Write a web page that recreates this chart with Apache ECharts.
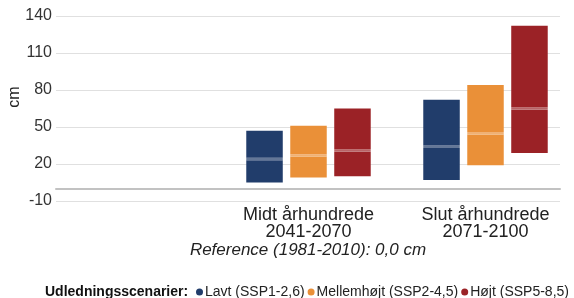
<!DOCTYPE html>
<html>
<head>
<meta charset="utf-8">
<script src="https://cdn.jsdelivr.net/npm/echarts@6/dist/echarts.min.js"></script>
<style>html,body{margin:0;padding:0;background:#fff}#c{width:574px;height:298px}</style>
</head>
<body>
<div id="c"></div>
<script>
// ---- data ----
const categories = ['Midt århundrede\n2041-2070', 'Slut århundrede\n2071-2100'];
const scenarios = ['Lavt (SSP1-2,6)', 'Mellemhøjt (SSP2-4,5)', 'Højt (SSP5-8,5)'];
const lavtLow = [5, 7];
const lavtMid = [24, 34];
const lavtHigh = [47, 72];
const mellemLow = [9, 19];
const mellemMid = [27, 45];
const mellemHigh = [51, 84];
const hojtLow = [10, 29];
const hojtMid = [31, 65];
const hojtHigh = [65, 132];
const yMin = -10, yMax = 140, yInterval = 30;
const yAxisTitle = 'cm';
const referenceText = 'Reference (1981-2010): 0,0 cm';
const legendTitle = 'Udledningsscenarier:';

// ---- styling ----
const colors = ['#213d6b', '#ea9038', '#9b2226'];
const lowArr = [lavtLow, mellemLow, hojtLow];
const midArr = [lavtMid, mellemMid, hojtMid];
const highArr = [lavtHigh, mellemHigh, hojtHigh];
const medianBand = 2; // value units for median line thickness

function lighten(hex, t) {
  const n = parseInt(hex.slice(1), 16);
  const r = (n >> 16) & 255, g = (n >> 8) & 255, b = n & 255;
  const m = c => Math.round(c + (255 - c) * t);
  return 'rgb(' + m(r) + ',' + m(g) + ',' + m(b) + ')';
}

const series = [];
scenarios.forEach((name, i) => {
  const stack = 's' + i;
  const common = { type: 'bar', xAxisIndex: 1, yAxisIndex: 1, stack: stack, barWidth: 36.5, barGap: '20.5%', silent: true };
  series.push(Object.assign({}, common, {
    name: name + ' base', data: lowArr[i], itemStyle: { color: 'rgba(0,0,0,0)' }
  }));
  series.push(Object.assign({}, common, {
    name: name, data: lowArr[i].map((l, k) => midArr[i][k] - l - medianBand / 2),
    itemStyle: { color: colors[i] }
  }));
  series.push(Object.assign({}, common, {
    name: name + ' median', data: midArr[i].map(() => medianBand),
    itemStyle: { color: lighten(colors[i], 0.3) }
  }));
  series.push(Object.assign({}, common, {
    name: name + ' upper', data: highArr[i].map((h, k) => h - midArr[i][k] - medianBand / 2),
    itemStyle: { color: colors[i] }
  }));
});

const chart = echarts.init(document.getElementById('c'), null, { renderer: 'canvas' });
chart.setOption({
  animation: false,
  textStyle: { fontFamily: 'Liberation Sans, Arial, sans-serif' },
  grid: [
    { left: 56, right: 14, top: 16, height: 185 },
    { left: 220, width: 366, top: 16, height: 185 }
  ],
  xAxis: [
    { gridIndex: 0, type: 'value', min: 0, max: 1,
      axisLine: { show: true, onZero: true, lineStyle: { color: '#c2c2c2', width: 2 } },
      axisTick: { show: false }, axisLabel: { show: false }, splitLine: { show: false } },
    { gridIndex: 1, type: 'category', data: categories,
      axisLine: { show: false }, axisTick: { show: false },
      axisLabel: { fontSize: 18, lineHeight: 17, color: '#222', margin: 6, fontFamily: 'Liberation Sans, Arial, sans-serif' } }
  ],
  yAxis: [
    { gridIndex: 0, type: 'value', min: yMin, max: yMax, interval: yInterval,
      axisLine: { show: false }, axisTick: { show: false },
      axisLabel: { fontSize: 16, color: '#333', margin: 4 },
      splitLine: { lineStyle: { color: '#e0e0e0', width: 1 } } },
    { gridIndex: 1, type: 'value', min: yMin, max: yMax, interval: yInterval, show: false,
      splitLine: { show: false } }
  ],
  legend: {
    data: scenarios, left: 196, top: 285, padding: 0, itemGap: 3,
    icon: 'circle', itemWidth: 7, itemHeight: 7, selectedMode: false,
    textStyle: { fontSize: 14, color: '#222', padding: [0, 0, 0, -3] }
  },
  graphic: [
    { type: 'text', x: 15, y: 97, rotation: Math.PI / 2,
      style: { text: yAxisTitle, fontSize: 16, fill: '#222', textAlign: 'center', textVerticalAlign: 'middle', fontFamily: 'Liberation Sans, Arial, sans-serif' } },
    { type: 'text', x: 308, y: 250,
      style: { text: referenceText, fontSize: 17, fontStyle: 'italic', fill: '#222', textAlign: 'center', textVerticalAlign: 'middle', fontFamily: 'Liberation Sans, Arial, sans-serif' } },
    { type: 'text', x: 45, y: 292,
      style: { text: legendTitle, fontSize: 14, fontWeight: 'bold', fill: '#111', textAlign: 'left', textVerticalAlign: 'middle', fontFamily: 'Liberation Sans, Arial, sans-serif' } }
  ],
  series: series
});
</script>
</body>
</html>
